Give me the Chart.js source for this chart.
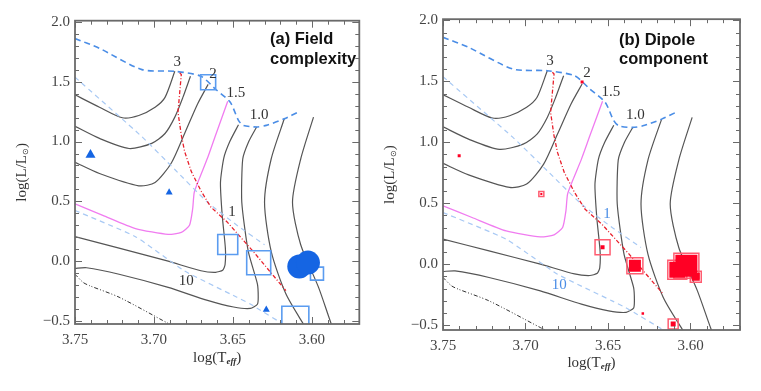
<!DOCTYPE html>
<html><head><meta charset="utf-8">
<script src="https://cdn.jsdelivr.net/npm/chart.js@4.4.1/dist/chart.umd.min.js"></script>
<style>
html,body{margin:0;padding:0;background:#fff;}
body{width:761px;height:391px;position:relative;overflow:hidden;}
canvas{position:absolute;top:0;}
#c1{left:0;} #c2{left:380px;}
</style></head>
<body>
<canvas id="c1" width="380" height="391"></canvas>
<canvas id="c2" width="381" height="391"></canvas>
<script>
// ---- axis ticks ----
const xTickVals = [3.75, 3.70, 3.65, 3.60];
const yTickVals = [-0.5, 0.0, 0.5, 1.0, 1.5, 2.0];

// ---- evolutionary tracks (log Teff, log L/Lsun) ----
const track30X = [3.7500, 3.7345, 3.7200, 3.7096, 3.6993, 3.6930, 3.6868];
const track30Y = [1.390, 1.287, 1.199, 1.218, 1.287, 1.369, 1.587];
const track25X = [3.7500, 3.7345, 3.7158, 3.7014, 3.6930, 3.6868, 3.6817, 3.6769];
const track25Y = [1.127, 1.026, 0.942, 0.985, 1.067, 1.204, 1.369, 1.546];
const track20X = [3.7500, 3.7345, 3.7096, 3.6993, 3.6890, 3.6806, 3.6724, 3.6657];
const track20Y = [0.827, 0.733, 0.630, 0.657, 0.821, 1.067, 1.314, 1.478];
const track15X = [3.7500, 3.7324, 3.7117, 3.6910, 3.6827, 3.6775, 3.6755, 3.6745, 3.6713, 3.6661, 3.6610, 3.6533];
const track15Y = [0.479, 0.383, 0.273, 0.224, 0.241, 0.301, 0.438, 0.575, 0.690, 0.862, 1.053, 1.336];
const track12X = [3.7500, 3.7221, 3.6910, 3.6703, 3.6610, 3.6565, 3.6550, 3.6548, 3.6568, 3.6579, 3.6558, 3.6520, 3.6465];
const track12Y = [0.205, 0.109, 0.000, -0.080, -0.093, -0.075, -0.030, 0.109, 0.383, 0.657, 0.862, 1.000, 1.140];
const track10X = [3.7500, 3.7427, 3.7221, 3.6910, 3.6661, 3.6496, 3.6390, 3.6345, 3.6340, 3.6345, 3.6403, 3.6444, 3.6438, 3.6400, 3.6350];
const track10Y = [-0.060, -0.055, -0.109, -0.219, -0.328, -0.383, -0.395, -0.360, -0.300, -0.191, 0.082, 0.493, 0.854, 1.000, 1.122];
const track08X = [3.6175, 3.6258, 3.6300, 3.6258, 3.6165, 3.6050, 3.6030];
const track08Y = [1.190, 0.854, 0.493, 0.082, -0.273, -0.534, -0.570];
const track06X = [3.5990, 3.6071, 3.6123, 3.6071, 3.5958, 3.5875, 3.5860];
const track06Y = [1.204, 0.854, 0.493, 0.137, -0.219, -0.534, -0.570];

// birthline, isochrones, fully-convective limit, ZAMS
const birthX = [3.7500, 3.7345, 3.7076, 3.6868, 3.6703, 3.6610, 3.6517, 3.6465, 3.6434, 3.6350, 3.6289, 3.6175, 3.6082];
const birthY = [1.861, 1.779, 1.601, 1.587, 1.546, 1.437, 1.328, 1.177, 1.135, 1.122, 1.135, 1.190, 1.250];
const iso1X = [3.7500, 3.7076, 3.6868, 3.6661, 3.6475, 3.6300];
const iso1Y = [1.538, 1.040, 0.766, 0.493, 0.301, 0.137];
const iso10X = [3.7500, 3.7117, 3.6806, 3.6475, 3.6393, 3.6140];
const iso10Y = [0.424, 0.205, -0.082, -0.301, -0.356, -0.560];
const convX = [3.6837, 3.6827, 3.6837, 3.6848, 3.6827, 3.6806, 3.6765, 3.6703, 3.6640, 3.6537, 3.6372, 3.6165];
const convY = [1.574, 1.560, 1.410, 1.245, 1.053, 0.917, 0.753, 0.589, 0.452, 0.328, 0.082, -0.246];
const zamsX = [3.7500, 3.7448, 3.7407, 3.7221, 3.6910, 3.6850];
const zamsY = [-0.109, -0.178, -0.205, -0.301, -0.520, -0.560];

// ---- stars ----
const starX = [3.7402, 3.6904, 3.6289, 3.6657, 3.6533, 3.6337, 3.6105, 3.5968, 3.6080, 3.6025];
const starY = [0.889, 0.575, -0.405, 1.495, 0.139, -0.013, -0.490, -0.104, -0.045, -0.012];
// field complexity symbol: 0 triangle, 1 open square, 2 filled circle ; symbol size (px)
const fieldSymbol = [0, 0, 0, 1, 1, 1, 1, 1, 2, 2];
const fieldSize   = [10, 7, 7, 15, 20, 24, 27, 13, 24, 24];
// dipole component: filled square size and outer ring size (px)
const dipoleSize = [3, 2, 2.5, 3, 4, 12, 5, 8, 16, 22];
const dipoleRing = [0, 5, 0, 0, 15, 16, 10, 11, 19, 25];

// ---- curve labels ----
const massLabels = ['3', '2', '1.5', '1.0'];
const massLabelX = [3.6852, 3.6627, 3.6482, 3.6334];
const massLabelY = [1.665, 1.568, 1.408, 1.220];
const ageLabels = ['1', '10'];
const ageLabelX = [3.6506, 3.6796];
const ageLabelY = [0.410, -0.168];

const SERIF = '"Liberation Serif", "Times New Roman", serif';
const SANS = '"Liberation Sans", Arial, Helvetica, sans-serif';

function pts(xs, ys) { return xs.map((x, i) => ({x: x, y: ys[i]})); }
function sel(arr, flags, k) { return arr.filter((_, i) => flags[i] === k); }
function lineDS(xs, ys, color, width, dash, tension) {
  return { data: pts(xs, ys), showLine: true, borderColor: color, borderWidth: width,
    borderDash: dash || [], pointRadius: 0, tension: tension, clip: 0, fill: false };
}

function drawRich(ctx, parts, cx, cy) {
  let total = 0;
  parts.forEach(p => { ctx.font = p.f; total += ctx.measureText(p.t).width; });
  let x = cx - total / 2;
  parts.forEach(p => { ctx.font = p.f; ctx.fillText(p.t, x, cy + (p.dy || 0)); x += ctx.measureText(p.t).width; });
}

function makePanel(id, P) {
  const overlay = {
    id: 'overlay' + id,
    afterDraw(chart) {
      const ctx = chart.ctx, a = chart.chartArea, xs = chart.scales.x, ys = chart.scales.y;
      ctx.save();
      ctx.strokeStyle = '#6a6a6a';
      ctx.lineWidth = 1;
      ctx.beginPath();
      for (let i = 357; i <= 375; i++) {
        const px = Math.round(xs.getPixelForValue(i / 100)) + 0.5;
        const L = (i % 5 === 0) ? 7 : 4;
        ctx.moveTo(px, a.bottom); ctx.lineTo(px, a.bottom - L);
        ctx.moveTo(px, a.top); ctx.lineTo(px, a.top + L);
      }
      for (let i = -5; i <= 20; i++) {
        const py = Math.round(ys.getPixelForValue(i / 10)) + 0.5;
        const L = (i % 5 === 0) ? 7 : 4;
        ctx.moveTo(a.left, py); ctx.lineTo(a.left + L, py);
        ctx.moveTo(a.right, py); ctx.lineTo(a.right - L, py);
      }
      ctx.stroke();
      ctx.lineWidth = 1.8;
      ctx.strokeRect(a.left, a.top, a.right - a.left, a.bottom - a.top);

      // curve labels
      ctx.textAlign = 'center'; ctx.textBaseline = 'middle';
      ctx.font = '15px ' + SERIF;
      ctx.fillStyle = '#333';
      massLabels.forEach((t, i) => ctx.fillText(t, xs.getPixelForValue(massLabelX[i]), ys.getPixelForValue(massLabelY[i])));
      ctx.fillStyle = P.ageColor;
      ageLabels.forEach((t, i) => ctx.fillText(t, xs.getPixelForValue(ageLabelX[i]), ys.getPixelForValue(ageLabelY[i])));

      // panel title
      ctx.textAlign = 'left'; ctx.fillStyle = '#111';
      ctx.font = 'bold 16.5px ' + SANS;
      ctx.fillText(P.title[0], P.titleX, P.titleY[0]);
      ctx.fillText(P.title[1], P.titleX, P.titleY[1]);

      // axis titles
      ctx.fillStyle = '#333';
      ctx.textAlign = 'left'; ctx.textBaseline = 'middle';
      drawRich(ctx, [{t: 'log(T', f: '15px ' + SERIF}, {t: 'eff', f: 'italic bold 9px ' + SERIF, dy: 4}, {t: ')', f: '15px ' + SERIF}],
        (a.left + a.right) / 2, P.xTitleY);
      ctx.translate(P.yTitleX, (a.top + a.bottom) / 2);
      ctx.rotate(-Math.PI / 2);
      drawRich(ctx, [{t: 'log(L/L', f: '15px ' + SERIF}, {t: '\u2299', f: '8px ' + SERIF, dy: 4}, {t: ')', f: '15px ' + SERIF}], 0, 0);
      ctx.restore();
    }
  };

  const datasets = P.markers.concat([
    lineDS(convX, convY, '#e8202c', 1.3, [4, 2, 1, 2], 0),
    lineDS(birthX, birthY, '#4a8de6', 1.6, [6, 4], 0.25),
    lineDS(iso1X, iso1Y, '#a8c9f4', 1.2, [5, 4], 0.15),
    lineDS(iso10X, iso10Y, '#a8c9f4', 1.2, [5, 4], 0.15),
    lineDS(track15X, track15Y, '#f07cf0', 1.3, [], 0.2),
    lineDS(track30X, track30Y, '#555', 1.2, [], 0.25),
    lineDS(track25X, track25Y, '#555', 1.2, [], 0.25),
    lineDS(track20X, track20Y, '#555', 1.2, [], 0.25),
    lineDS(track12X, track12Y, '#555', 1.2, [], 0.2),
    lineDS(track10X, track10Y, '#555', 1.2, [], 0.2),
    lineDS(track08X, track08Y, '#555', 1.2, [], 0.25),
    lineDS(track06X, track06Y, '#555', 1.2, [], 0.25),
    lineDS(zamsX, zamsY, '#333', 1, [4, 2, 1, 2, 1, 2], 0.25)
  ]);

  new Chart(document.getElementById(id), {
    type: 'scatter',
    data: { datasets: datasets },
    options: {
      responsive: false, animation: false, events: [],
      layout: { padding: { left: 0, top: P.top, right: P.right, bottom: 0 } },
      plugins: { legend: { display: false }, tooltip: { enabled: false } },
      scales: {
        x: {
          type: 'linear', min: 3.57, max: 3.75, reverse: true,
          afterBuildTicks: s => { s.ticks = xTickVals.map(v => ({value: v})); },
          afterFit: s => { s.height = P.xAxisH; },
          grid: { display: false, drawTicks: false }, border: { display: false },
          ticks: { font: { family: SERIF, size: 15 }, color: '#444', padding: P.xPad, maxRotation: 0, autoSkip: false,
            callback: v => v.toFixed(2) }
        },
        y: {
          type: 'linear', min: P.yMin, max: 2.01,
          afterBuildTicks: s => { s.ticks = yTickVals.map(v => ({value: v})); },
          afterFit: s => { s.width = P.yAxisW; },
          grid: { display: false, drawTicks: false }, border: { display: false },
          ticks: { font: { family: SERIF, size: 15 }, color: '#444', padding: 5, autoSkip: false,
            callback: v => (v < 0 ? '\u2212' : '') + Math.abs(v).toFixed(1) }
        }
      }
    },
    plugins: [overlay]
  });
}

// ---- panel (a): field complexity ----
const idx = starX.map((_, i) => i);
const triIdx = sel(idx, fieldSymbol, 0);
const sqIdx = sel(idx, fieldSymbol, 1);
const ciIdx = sel(idx, fieldSymbol, 2);
const markersA = [
  { data: triIdx.map(i => ({x: starX[i], y: starY[i]})), pointStyle: 'triangle',
    pointRadius: triIdx.map(i => fieldSize[i] / Math.sqrt(3)), pointBackgroundColor: '#1565e3', pointBorderColor: '#1565e3', pointBorderWidth: 0, clip: 0 },
  { data: ciIdx.map(i => ({x: starX[i], y: starY[i]})), pointStyle: 'circle',
    pointRadius: ciIdx.map(i => fieldSize[i] / 2), pointBackgroundColor: '#1565e3', pointBorderColor: '#1565e3', pointBorderWidth: 0, clip: 0 },
  { data: sqIdx.map(i => ({x: starX[i], y: starY[i]})), pointStyle: 'rect',
    pointRadius: sqIdx.map(i => fieldSize[i] / Math.SQRT2), pointBackgroundColor: 'rgba(0,0,0,0)', pointBorderColor: '#5b9cf0', pointBorderWidth: 1.6, clip: 0 }
];
makePanel('c1', { top: 15, right: 16, yAxisW: 75, xAxisH: 67, xPad: 7, yMin: -0.525,
  title: ['(a) Field', 'complexity'], titleX: 270, titleY: [39, 59], xTitleY: 358, yTitleX: 22,
  ageColor: '#333', markers: markersA });

// ---- panel (b): dipole component ----
const markersB = [
  { data: pts(starX, starY), pointStyle: 'rect', pointRadius: dipoleSize.map(s => s / Math.SQRT2),
    pointBackgroundColor: '#ff0024', pointBorderColor: '#ff0024', pointBorderWidth: 0, clip: 0 },
  { data: pts(starX, starY), pointStyle: 'rect', pointRadius: dipoleRing.map(s => s / Math.SQRT2),
    pointBackgroundColor: 'rgba(0,0,0,0)', pointBorderColor: '#ff5c70', pointBorderWidth: 1.5, clip: 0 }
];
makePanel('c2', { top: 15, right: 21, yAxisW: 63, xAxisH: 61, xPad: 7, yMin: -0.54,
  title: ['(b) Dipole', 'component'], titleX: 239, titleY: [40, 59], xTitleY: 363, yTitleX: 10,
  ageColor: '#4a8de6', markers: markersB });
</script>
</body></html>
